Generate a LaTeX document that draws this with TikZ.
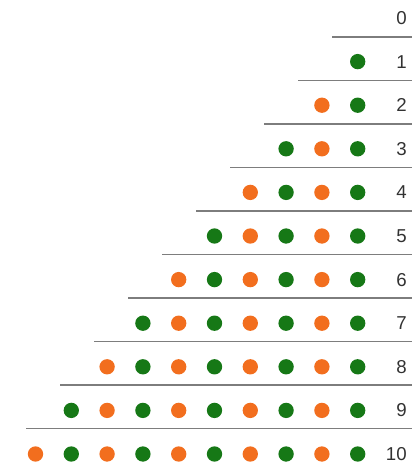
\documentclass[tikz,border=0pt]{standalone}
\usepackage{fontspec}
\setmainfont{Liberation Sans}
\definecolor{dotgreen}{RGB}{22,120,22}
\definecolor{dotorange}{RGB}{242,110,30}
\definecolor{rulegray}{RGB}{125,125,125}
\definecolor{labelgray}{RGB}{50,50,50}
\begin{document}
\begin{tikzpicture}[x=0.75pt,y=-0.75pt,
  dot/.style={circle,inner sep=0pt,minimum size=11.5pt,draw=none},
  rowlabel/.style={anchor=east,inner sep=0pt,text=labelgray,font=\fontsize{14}{16}\selectfont},
  sep/.style={draw=rulegray,line width=1.3pt}]
\useasboundingbox (0,0) rectangle (412,469);
% separator lines
\foreach \k in {0,...,9}{
  \coordinate (s\k a) at ({332-34*\k},{37+43.5*\k});
  \coordinate (s\k b) at (412,{37+43.5*\k});
  \draw[sep] (s\k a) -- (s\k b);
}
% row labels
\foreach \k in {0,...,10}{
  \node[rowlabel] (l\k) at (407,{18+43.6*\k}) {\k};
}
% dots
\foreach \k in {1,...,10}{
  \pgfmathtruncatemacro\kk{\k-1}
  \foreach \j in {0,...,\kk}{
    \ifodd\j\def\col{dotorange}\else\def\col{dotgreen}\fi
    \node[dot,fill=\col] (d\k-\j) at ({357.7-35.8*\j},{18+43.6*\k}) {};
  }
}
\end{tikzpicture}
\end{document}
